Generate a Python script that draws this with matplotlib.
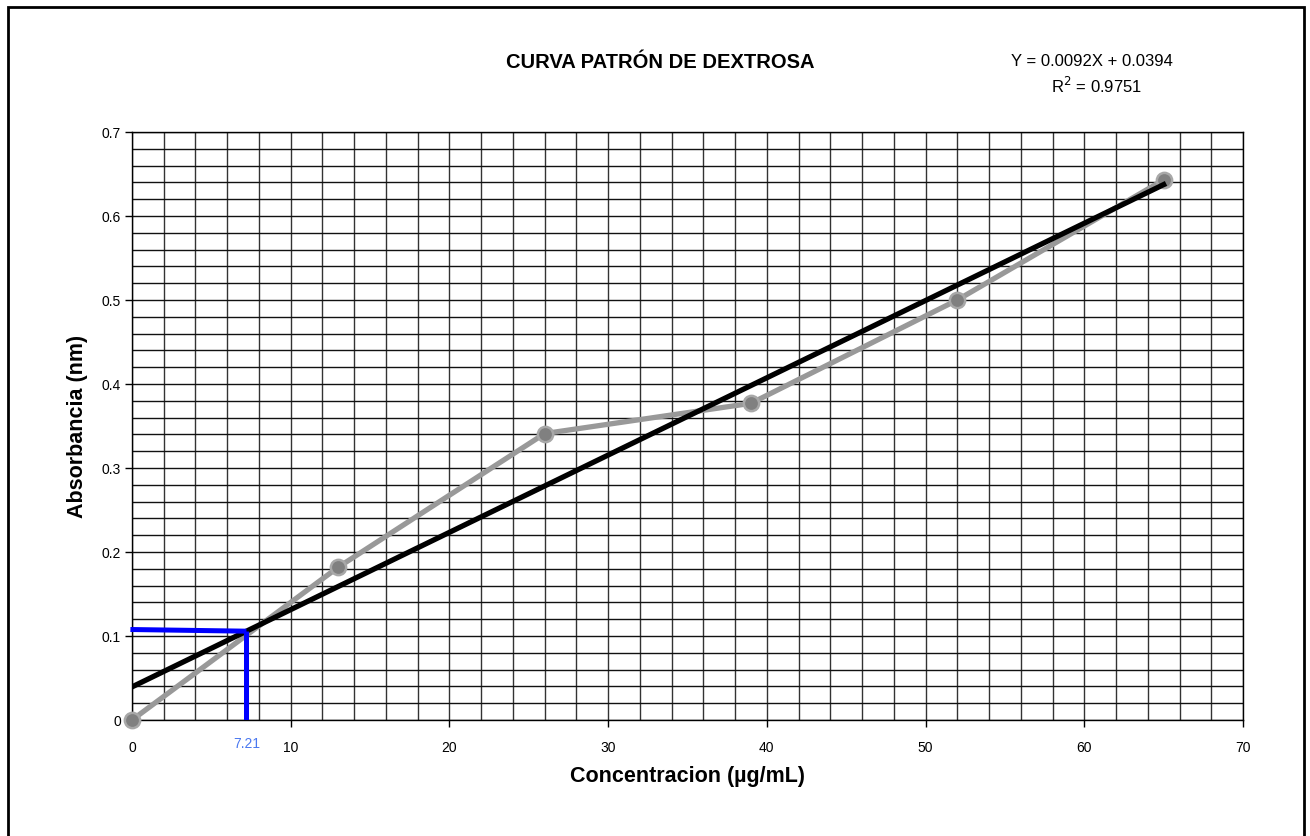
import numpy as np
import matplotlib.pyplot as plt
from matplotlib.patches import Rectangle

plt.rcParams['font.family'] = ['Liberation Sans', 'DejaVu Sans']

# ── Datos de la curva patrón ──────────────────────
concentracion = [0, 13, 26, 39, 52, 65]
absorbancia = [0.0, 0.182, 0.341, 0.377, 0.500, 0.643]

pendiente = 0.0092
intercepto = 0.0394
r2 = 0.9751
x_muestra = 7.21

x_ticks = [0, 10, 20, 30, 40, 50, 60, 70]
y_ticks = [0, 0.1, 0.2, 0.3, 0.4, 0.5, 0.6, 0.7]
y_tick_labels = ["0", "0.1", "0.2", "0.3", "0.4", "0.5", "0.6", "0.7"]

fig = plt.figure(figsize=(13.1, 8.36), dpi=100)
ax = fig.add_axes([132 / 1310, 1 - 720 / 836, (1243 - 132) / 1310, (720 - 132) / 836])

# cuadrícula tipo papel milimetrado
for xv in np.arange(0, 71, 2):
    ax.axvline(xv, color="#333333", lw=1.0, zorder=1)
for yv in np.arange(0, 0.701, 0.02):
    ax.axhline(yv, color="#111111", lw=1.0, zorder=1)

# datos experimentales
ax.plot(concentracion, absorbancia, color="#999999", lw=3.8, zorder=3,
        marker="o", markersize=11, markerfacecolor="#808080",
        markeredgecolor="#a8a8a8", markeredgewidth=1.8, clip_on=False)

# recta de regresión
xr = np.array([concentracion[0], concentracion[-1]])
ax.plot(xr, pendiente * xr + intercepto, color="black", lw=3.8, zorder=4)

# lectura de la muestra
y_muestra = pendiente * x_muestra + intercepto
ax.plot([-0.1, x_muestra], [y_muestra + 0.002, y_muestra], color="#0000ff",
        lw=3.6, zorder=5, solid_capstyle="butt", clip_on=False)
ax.plot([x_muestra, x_muestra], [0, y_muestra], color="#0000ff",
        lw=3.6, zorder=5, solid_capstyle="butt")
ax.text(x_muestra, -0.028, f"{x_muestra:.2f}", color="#4a78f0",
        ha="center", va="center", fontsize=10)

ax.set_xlim(0, 70)
ax.set_ylim(0, 0.7)
ax.set_xticks(x_ticks)
ax.set_xticklabels([str(t) for t in x_ticks], fontsize=10)
ax.set_yticks(y_ticks)
ax.set_yticklabels(y_tick_labels, fontsize=10)
ax.tick_params(axis="x", direction="out", length=5, pad=10, width=1)
ax.tick_params(axis="y", direction="out", length=5, pad=3, width=1)
for s in ax.spines.values():
    s.set_linewidth(1.0)
    s.set_color("black")

ax.set_xlabel("Concentracion (µg/mL)", fontsize=15.5, fontweight="bold", labelpad=8)
ax.set_ylabel("Absorbancia (nm)", fontsize=15.5, fontweight="bold", labelpad=10)

fig.text(660 / 1310, 1 - 62 / 836, "CURVA PATRÓN DE DEXTROSA", ha="center",
         va="center", fontsize=14.5, fontweight="bold")
fig.text(1092 / 1310, 1 - 62 / 836, f"Y = {pendiente}X + {intercepto}", ha="center",
         va="center", fontsize=12)
fig.text(1097 / 1310, 1 - 86 / 836, f"R$^2$ = {r2}", ha="center",
         va="center", fontsize=12)

# marco exterior
fig.patches.append(Rectangle((8 / 1310, -0.05), (1304 - 8) / 1310, 1.05 - 7 / 836,
                             transform=fig.transFigure, fill=False,
                             edgecolor="black", lw=2))

fig.savefig("out.png", dpi=100)
